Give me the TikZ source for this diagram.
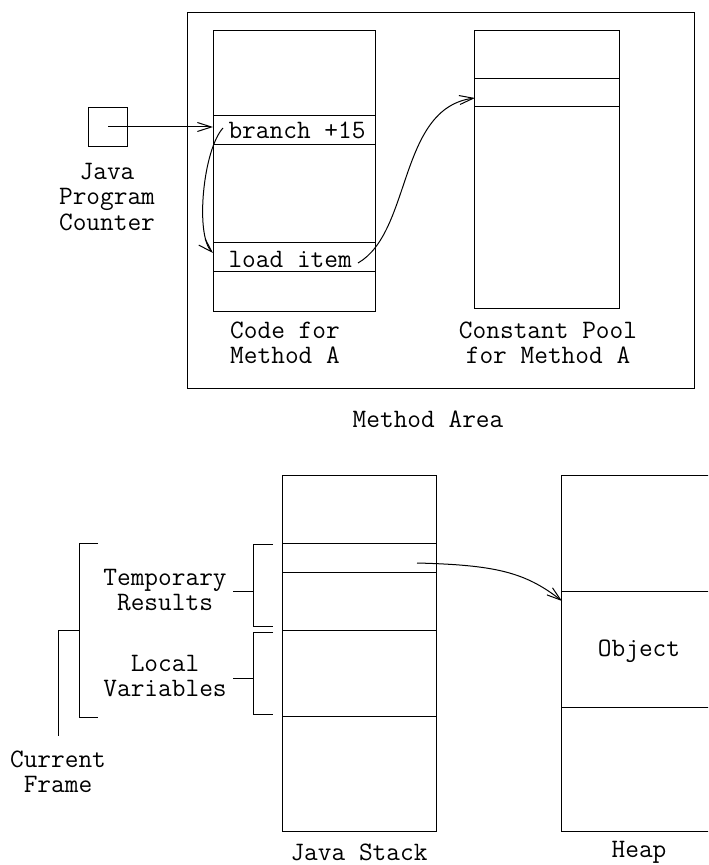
\documentclass[tikz,border=0pt]{standalone}
\usetikzlibrary{arrows.meta}
\begin{document}
\begin{tikzpicture}[x=0.5pt,y=-0.5pt,line width=0.5pt,
  box/.style={draw,inner sep=0pt,anchor=north west},
  lbl/.style={font=\fontsize{13.3}{12.6}\selectfont\ttfamily,align=center,inner sep=0pt},
  arr/.style={-{Straight Barb[length=7pt,width=4.5pt]}}]
\useasboundingbox (0,0) rectangle (708,865);
\begin{scope}
\clip (0,0) rectangle (708,865);
% Method area
\node[box,minimum width=253.5pt,minimum height=188pt] (ma) at (187,12) {};
\node[box,minimum width=81pt,minimum height=140.5pt] (code) at (213,30) {};
\draw (213,116) -- (375,116) (213,145) -- (375,145);
\draw (213,243) -- (375,243) (213,272) -- (375,272);
\node[lbl,anchor=west] (br) at (228,130) {branch +15};
\node[lbl,anchor=west] (ld) at (228,259) {load item};
\node[box,minimum width=72.5pt,minimum height=139pt] (cp) at (474,30) {};
\draw (474,79) -- (619,79) (474,107) -- (619,107);
\node[lbl] (codelbl) at (285,343) {Code for\\Method A};
\node[lbl] (cplbl) at (548,343) {Constant Pool\\for Method A};
\node[lbl] (malbl) at (428,419) {Method Area};
% PC
\node[box,minimum width=19.5pt,minimum height=19.5pt] (pc) at (88,107) {};
\node[lbl] (pclbl) at (107,197) {Java\\Program\\Counter};
\coordinate (pcend) at (213,127);
\draw[arr] (pc.center) -- (pcend);
\coordinate (brs) at (223,128);
\coordinate (lde) at (213,253);
\draw[arr] (brs) .. controls (203,150) and (195,235) .. (lde);
\coordinate (lds) at (358,263);
\coordinate (cpe) at (475,98);
\draw[arr] (lds) .. controls (412,232) and (398,108) .. (cpe);
% Java stack
\node[box,minimum width=77pt,minimum height=178pt] (stack) at (282,475) {};
\draw (282,543) -- (436,543) (282,572) -- (436,572) (282,630) -- (436,630) (282,716) -- (436,716);
\node[lbl] (stacklbl) at (359,852) {Java Stack};
% Heap
\node[box,minimum width=78pt,minimum height=178pt] (heap) at (561,475) {};
\draw (561,591) -- (717,591) (561,707) -- (717,707);
\node[lbl] (obj) at (639,651) {Object};
\node[lbl] (heaplbl) at (639,852) {Heap};
\coordinate (ss) at (417,563);
\coordinate (he) at (562,601);
\draw[arr] (ss) .. controls (495,565) and (525,572) .. (he);
% brackets
\draw (273,544) -- (253,544) -- (253,626) -- (273,626);
\draw (233,591) -- (253,591);
\draw (273,632) -- (253,632) -- (253,714) -- (273,714);
\draw (233,678) -- (253,678);
\draw (98,543) -- (79,543) -- (79,717) -- (98,717);
\draw (79,630) -- (58,630) -- (58,736);
\node[lbl] (tmp) at (165,590) {Temporary\\Results};
\node[lbl] (loc) at (165,676) {Local\\Variables};
\node[lbl] (cur) at (58,772) {Current\\Frame};
\end{scope}
\end{tikzpicture}
\end{document}
